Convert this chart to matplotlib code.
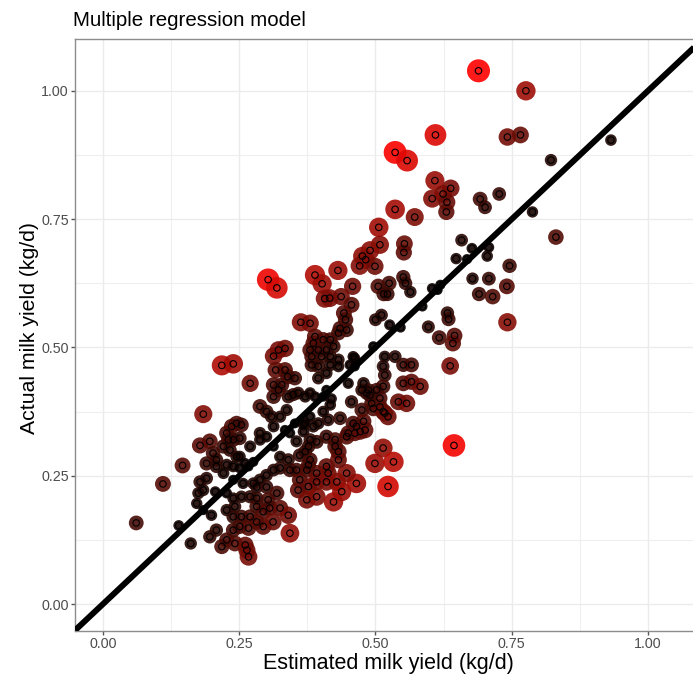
import numpy as np
import matplotlib
matplotlib.use('Agg')
import matplotlib.pyplot as plt
from matplotlib.ticker import MultipleLocator

plt.rcParams['font.family'] = ['Liberation Sans', 'DejaVu Sans']

# estimated vs actual milk yield (kg/d) in three groups
est_upper = [0.689, 0.776, 0.932, 0.610, 0.742, 0.766, 0.536, 0.558, 0.822, 0.609,
             0.638, 0.624, 0.604, 0.631, 0.630, 0.536, 0.572, 0.692, 0.701, 0.727,
             0.788, 0.831, 0.506, 0.508, 0.490, 0.476, 0.482, 0.471, 0.499, 0.553,
             0.552, 0.658, 0.677, 0.648, 0.668, 0.708, 0.705, 0.746, 0.678, 0.708,
             0.741, 0.690, 0.715, 0.742, 0.431, 0.389, 0.402, 0.458, 0.407, 0.416,
             0.437, 0.456, 0.505, 0.525, 0.515, 0.522, 0.551, 0.555, 0.564, 0.363,
             0.442, 0.445, 0.447, 0.500, 0.511, 0.526, 0.604, 0.619, 0.614, 0.632,
             0.634, 0.597, 0.586, 0.617, 0.645, 0.642, 0.546, 0.637, 0.644, 0.218,
             0.239, 0.303, 0.319]
act_upper = [1.039, 1.000, 0.904, 0.914, 0.910, 0.914, 0.880, 0.864, 0.865, 0.825,
             0.810, 0.799, 0.790, 0.783, 0.764, 0.769, 0.754, 0.789, 0.773, 0.799,
             0.764, 0.715, 0.734, 0.700, 0.689, 0.678, 0.671, 0.659, 0.658, 0.702,
             0.685, 0.709, 0.693, 0.673, 0.672, 0.695, 0.678, 0.659, 0.634, 0.634,
             0.619, 0.604, 0.599, 0.549, 0.650, 0.641, 0.624, 0.619, 0.595, 0.596,
             0.599, 0.583, 0.619, 0.625, 0.604, 0.604, 0.637, 0.625, 0.608, 0.549,
             0.567, 0.554, 0.534, 0.554, 0.563, 0.544, 0.615, 0.622, 0.612, 0.567,
             0.555, 0.540, 0.580, 0.519, 0.523, 0.508, 0.539, 0.464, 0.309, 0.465,
             0.468, 0.632, 0.616]

est_mid = [0.322, 0.334, 0.313, 0.317, 0.334, 0.339, 0.352, 0.270, 0.313, 0.328,
           0.313, 0.340, 0.380, 0.389, 0.386, 0.404, 0.417, 0.380, 0.395, 0.410,
           0.423, 0.383, 0.401, 0.417, 0.432, 0.383, 0.395, 0.417, 0.410, 0.432,
           0.462, 0.496, 0.462, 0.517, 0.536, 0.551, 0.566, 0.514, 0.517, 0.478,
           0.487, 0.502, 0.508, 0.493, 0.496, 0.514, 0.475, 0.551, 0.566, 0.582,
           0.542, 0.557, 0.450, 0.395, 0.358, 0.371, 0.389, 0.404, 0.417, 0.380,
           0.371, 0.395, 0.413, 0.435, 0.322, 0.288, 0.300, 0.309, 0.325, 0.337,
           0.313, 0.334, 0.352, 0.368, 0.456, 0.465, 0.462, 0.481, 0.478, 0.490,
           0.475, 0.484, 0.508, 0.517, 0.523, 0.514, 0.459, 0.453, 0.410, 0.419,
           0.404, 0.432, 0.435, 0.380, 0.349, 0.386, 0.368, 0.355]
act_mid = [0.495, 0.498, 0.483, 0.456, 0.456, 0.443, 0.440, 0.430, 0.427, 0.427,
           0.404, 0.404, 0.547, 0.521, 0.508, 0.515, 0.515, 0.495, 0.495, 0.495,
           0.502, 0.482, 0.482, 0.482, 0.476, 0.466, 0.463, 0.466, 0.450, 0.463,
           0.479, 0.502, 0.463, 0.482, 0.482, 0.466, 0.466, 0.463, 0.446, 0.430,
           0.417, 0.417, 0.401, 0.391, 0.381, 0.375, 0.378, 0.430, 0.433, 0.424,
           0.394, 0.391, 0.430, 0.440, 0.411, 0.404, 0.404, 0.404, 0.388, 0.365,
           0.352, 0.352, 0.359, 0.362, 0.417, 0.385, 0.375, 0.365, 0.365, 0.378,
           0.346, 0.339, 0.352, 0.349, 0.394, 0.346, 0.333, 0.339, 0.356, 0.407,
           0.417, 0.411, 0.384, 0.372, 0.365, 0.424, 0.482, 0.466, 0.417, 0.400,
           0.375, 0.528, 0.537, 0.411, 0.408, 0.346, 0.336, 0.317]

est_low = [0.184, 0.178, 0.196, 0.202, 0.208, 0.190, 0.208, 0.178, 0.190, 0.184,
           0.175, 0.172, 0.199, 0.184, 0.146, 0.110, 0.061, 0.139, 0.161, 0.206,
           0.227, 0.239, 0.221, 0.227, 0.245, 0.227, 0.236, 0.245, 0.254, 0.230,
           0.239, 0.251, 0.221, 0.233, 0.239, 0.251, 0.270, 0.251, 0.267, 0.276,
           0.257, 0.276, 0.288, 0.300, 0.239, 0.254, 0.270, 0.282, 0.227, 0.242,
           0.239, 0.254, 0.270, 0.282, 0.294, 0.306, 0.325, 0.340, 0.294, 0.312,
           0.282, 0.196, 0.208, 0.218, 0.227, 0.242, 0.261, 0.267, 0.264, 0.343,
           0.239, 0.251, 0.267, 0.282, 0.300, 0.303, 0.319, 0.313, 0.325, 0.343,
           0.325, 0.340, 0.313, 0.343, 0.300, 0.361, 0.355, 0.374, 0.392, 0.361,
           0.377, 0.358, 0.374, 0.392, 0.410, 0.413, 0.392, 0.410, 0.429, 0.438,
           0.423, 0.465, 0.447, 0.432, 0.432, 0.426, 0.410, 0.426, 0.392, 0.380,
           0.377, 0.371, 0.380, 0.377, 0.447, 0.450, 0.472, 0.459, 0.514, 0.499,
           0.533, 0.523, 0.288, 0.288, 0.261]
act_low = [0.370, 0.309, 0.317, 0.294, 0.281, 0.274, 0.268, 0.238, 0.245, 0.222,
           0.216, 0.196, 0.173, 0.183, 0.270, 0.234, 0.158, 0.153, 0.118, 0.219,
           0.216, 0.242, 0.255, 0.271, 0.287, 0.333, 0.346, 0.352, 0.349, 0.320,
           0.320, 0.323, 0.307, 0.300, 0.268, 0.287, 0.307, 0.265, 0.268, 0.277,
           0.235, 0.235, 0.242, 0.251, 0.206, 0.209, 0.209, 0.206, 0.183, 0.190,
           0.170, 0.170, 0.170, 0.190, 0.180, 0.187, 0.187, 0.173, 0.151, 0.160,
           0.160, 0.131, 0.144, 0.112, 0.125, 0.118, 0.115, 0.092, 0.105, 0.138,
           0.144, 0.151, 0.148, 0.228, 0.228, 0.203, 0.216, 0.261, 0.265, 0.261,
           0.287, 0.281, 0.307, 0.333, 0.326, 0.290, 0.261, 0.261, 0.255, 0.242,
           0.229, 0.222, 0.203, 0.209, 0.268, 0.255, 0.238, 0.238, 0.238, 0.219,
           0.199, 0.235, 0.255, 0.281, 0.297, 0.307, 0.326, 0.320, 0.316, 0.320,
           0.307, 0.297, 0.281, 0.271, 0.326, 0.333, 0.336, 0.352, 0.304, 0.274,
           0.277, 0.229, 0.320, 0.333, 0.274]

ticks = [0.00, 0.25, 0.50, 0.75, 1.00]
tick_labels = ['0.00', '0.25', '0.50', '0.75', '1.00']


def black_to_red(t):
    """black -> red gradient interpolated in CIE Lab (like ggplot's default)"""
    L = 53.24 * t
    a = 80.09 * t
    b = 67.20 * t
    fy = (L + 16) / 116
    fx = fy + a / 500
    fz = fy - b / 200

    def finv(f):
        return np.where(f > 6 / 29, f ** 3, (f - 16 / 116) / 7.787)
    X = 0.95047 * finv(fx)
    Y = finv(fy)
    Z = 1.08883 * finv(fz)
    r = 3.2406 * X - 1.5372 * Y - 0.4986 * Z
    g = -0.9689 * X + 1.8758 * Y + 0.0415 * Z
    bl = 0.0557 * X - 0.2040 * Y + 1.0570 * Z
    lin = np.clip(np.stack([r, g, bl], axis=1), 0, 1)
    srgb = np.where(lin <= 0.0031308, 12.92 * lin,
                    1.055 * lin ** (1 / 2.4) - 0.055)
    srgb[:, 1:] *= 0.5   # a little less brown, closer to the picture
    return np.clip(srgb, 0, 1)


est = np.array(est_upper + est_mid + est_low)
act = np.array(act_upper + act_mid + act_low)
assert len(est) == len(act)

# residual drives colour (black -> red) and point area
resid = np.abs(act - est)
t = np.clip(resid / resid.max(), 0, 1)
colors = np.ones((len(t), 4))
colors[:, :3] = black_to_red(t)
colors[:, 3] = 0.9
d_px = np.sqrt(100 + 430 * t)          # diameter in pixels
sizes = (d_px * 72 / 100.0) ** 2

fig = plt.figure(figsize=(6.93, 6.78), dpi=100)
ax = fig.add_axes([0.1082, 0.0693, 0.9055, 0.8732])

ax.set_xlim(-0.0514, 1.10)
ax.set_ylim(-0.0526, 1.101)

ax.xaxis.set_major_locator(MultipleLocator(0.25))
ax.yaxis.set_major_locator(MultipleLocator(0.25))
ax.xaxis.set_minor_locator(MultipleLocator(0.125))
ax.yaxis.set_minor_locator(MultipleLocator(0.125))
ax.grid(which='major', color='#EBEBEB', linewidth=1.0)
ax.grid(which='minor', color='#EFEFEF', linewidth=0.8)
ax.set_axisbelow(True)

ax.scatter(est, act, s=sizes, c=colors, edgecolors='none', zorder=2)
ax.scatter(est, act, s=22, facecolors='none', edgecolors='black',
           linewidths=0.8, zorder=3)
ax.axline((0, 0), slope=1, color='black', linewidth=4.3, zorder=4,
          solid_capstyle='butt')

ax.set_xticks(ticks)
ax.set_xticklabels(tick_labels)
ax.set_yticks(ticks)
ax.set_yticklabels(tick_labels)
ax.tick_params(which='major', length=3, width=1.0, color='#555555',
               labelcolor='#4D4D4D', labelsize=10.3, pad=1.5)
ax.tick_params(which='minor', length=0)

for sp in ax.spines.values():
    sp.set_color('#8C8C8C')
    sp.set_linewidth(1.0)

ax.set_xlabel('Estimated milk yield (kg/d)', fontsize=15.5, labelpad=1)
ax.set_ylabel('Actual milk yield (kg/d)', fontsize=15.3)
ax.yaxis.set_label_coords(-0.057, 0.512)
fig.text(0.1053, 0.97, 'Multiple regression model', fontsize=14.8,
         ha='left', va='center')

fig.savefig('out.png', dpi=100)
